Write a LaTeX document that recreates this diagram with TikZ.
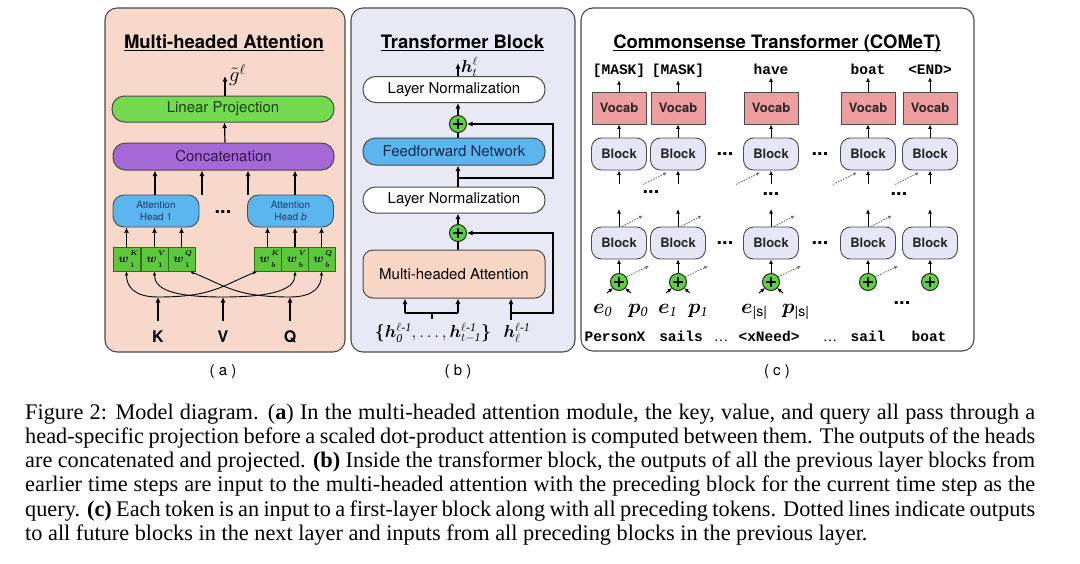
\documentclass[tikz,border=0pt]{standalone}
\usepackage{amsmath}
\usepackage{bm}
\usepackage{fontspec}
\setmainfont{Liberation Serif}
\setsansfont{TeX Gyre Heros}
\setmonofont{Liberation Mono}
\usetikzlibrary{arrows.meta,calc}

\definecolor{peachA}{HTML}{F7D8CA}
\definecolor{lavB}{HTML}{E9E9F6}
\definecolor{lpgreen}{HTML}{74DB50}
\definecolor{wgreen}{HTML}{5CC93C}
\definecolor{wdark}{HTML}{2F6E22}
\definecolor{pgreen}{HTML}{5AD43A}
\definecolor{concat}{HTML}{A469D6}
\definecolor{headblue}{HTML}{5BB6F0}
\definecolor{vocabred}{HTML}{EE9E9E}
\definecolor{blockl}{HTML}{E6E6F6}
\definecolor{mhapeach}{HTML}{F8D6C5}
\definecolor{edge}{HTML}{4A4A4A}
\definecolor{lptext}{HTML}{1E3D12}
\definecolor{cctext}{HTML}{2F1548}
\definecolor{headtext}{HTML}{1F3A6E}
\definecolor{ffntext}{HTML}{0F2A4A}

\newcommand\wlab[2]{{\fontsize{13}{14}\selectfont$\bm{w}$}\kern1.6pt\makebox[0pt][l]{\raisebox{7pt}{\fontsize{7}{7}\selectfont$\bm{#2}$}}\raisebox{-5.5pt}{\fontsize{7}{7}\selectfont$\bm{#1}$}\hspace{3pt}}

\tikzset{
  panel/.style={draw=edge, line width=1.1pt, rounded corners=12pt},
  ttl/.style={font=\sffamily\bfseries\fontsize{18.5}{20}\selectfont, inner sep=0pt, anchor=base},
  pill/.style={draw=edge, line width=1pt, rounded corners=12.5pt, inner sep=0pt, font=\sffamily\fontsize{15}{18}\selectfont},
  arr/.style={-{Latex[length=5.5pt,width=5pt]}, line width=1.2pt},
  sarr/.style={-{Latex[length=4.5pt,width=4pt]}, line width=1pt},
  cur/.style={-{Latex[length=4pt,width=3.5pt]}, line width=0.9pt},
  dotarr/.style={-{Latex[length=4pt,width=3.5pt]}, line width=0.9pt, draw=black!55, dash pattern=on 1.6pt off 1.2pt},
  wbox/.style={draw=wdark, fill=wgreen, line width=0.8pt, minimum width=27pt, minimum height=24pt, inner sep=0pt},
  head/.style={draw=edge, fill=headblue, rounded corners=11pt, line width=0.9pt, minimum width=86pt, minimum height=32pt, inner sep=0pt, align=center, font=\sffamily\fontsize{10}{11.5}\selectfont, text=headtext},
  plus/.style={circle, draw=black!85, fill=pgreen, line width=1pt, minimum size=17pt, inner sep=0pt},
  vocab/.style={draw=edge, fill=vocabred, line width=0.9pt, minimum width=54pt, minimum height=32pt, inner sep=0pt, font=\sffamily\bfseries\fontsize{13}{15}\selectfont, text=black!85},
  blk/.style={draw=edge, fill=blockl, rounded corners=10pt, line width=0.9pt, minimum width=55pt, minimum height=32pt, inner sep=0pt, font=\sffamily\bfseries\fontsize{13}{15}\selectfont, text=black!85},
  tok/.style={font=\ttfamily\bfseries\fontsize{14.5}{16}\selectfont, anchor=base, inner sep=0pt},
  dots/.style={font=\sffamily\bfseries\fontsize{20}{20}\selectfont, inner sep=0pt},
  kvq/.style={font=\sffamily\bfseries\fontsize{16}{16}\selectfont, inner sep=0pt},
  sublab/.style={font=\sffamily\fontsize{15}{17}\selectfont, anchor=base, inner sep=0pt},
  mathlab/.style={inner sep=0pt, anchor=base west},
  capline/.style={anchor=base west, inner sep=0pt, font=\rmfamily\fontsize{22.3}{24}\selectfont}
}

\newcommand\plusnode[2]{%
  \node[plus] (#1) at #2 {};
  \draw[line width=1.7pt] ($(#1)+(-4.8,0)$) -- ($(#1)+(4.8,0)$) ($(#1)+(0,-4.8)$) -- ($(#1)+(0,4.8)$);}

\begin{document}
\begin{tikzpicture}[x=1pt,y=-1pt]
\path[use as bounding box, fill=white] (0,0) rectangle (1080,563);

% ---------- panels ----------
\draw[panel, fill=peachA] (105,8) rectangle (345,352);
\draw[panel, fill=lavB] (351,8) rectangle (575,352);
\draw[panel, fill=white] (581,8) rectangle (974,351);

% ---------- panel (a) ----------
\node[ttl] (ta) at (224,48) {Multi-headed Attention};
\draw[line width=1.2pt] ($(ta.base west)+(0,2.8)$) -- ($(ta.base east)+(0,2.8)$);

\node[pill, fill=lpgreen, minimum width=222pt, minimum height=26pt, text=lptext] (lp) at (223,109) {Linear Projection};
\node[pill, fill=concat, minimum width=221pt, minimum height=27pt, text=cctext] (cc) at (223.5,156.5) {Concatenation};
\node[head] (h1) at (156,211) {Attention\\Head 1};
\node[head] (hb) at (290.5,211) {Attention\\Head \textit{b}};
\node[dots] (da) at (223,212) {...};

\coordinate (gt) at (225,76);
\draw[arr] ($(lp.north)+(2,0)$) -- (gt);
\node[mathlab, anchor=west, font=\fontsize{21}{21}\selectfont] (gl) at (229,75) {$\tilde{g}^{\ell}$};
\draw[arr] ($(cc.north)+(1.5,0)$) -- ($(lp.south)+(1.5,0)$);

\coordinate (ca1) at (155,195);
\coordinate (ca2) at (202,195);
\coordinate (ca3) at (248,195);
\coordinate (ca4) at (295,195);
\foreach \c in {ca1,ca2,ca3,ca4} \draw[arr] (\c) -- (\c |- cc.south);

\node[wbox] (w1k) at (126.5,259) {\wlab{1}{K}};
\node[wbox] (w1v) at (154.5,259) {\wlab{1}{V}};
\node[wbox] (w1q) at (181.5,259) {\wlab{1}{Q}};
\node[wbox] (wbk) at (267.5,259) {\wlab{b}{K}};
\node[wbox] (wbv) at (295,259) {\wlab{b}{V}};
\node[wbox] (wbq) at (321.5,259) {\wlab{b}{Q}};
\draw[arr] (w1k.north) -- (w1k.north |- h1.south);
\draw[arr] (w1v.north) -- (w1v.north |- h1.south);
\draw[arr] (w1q.north) -- (w1q.north |- h1.south);
\draw[arr] (wbk.north) -- (wbk.north |- hb.south);
\draw[arr] (wbv.north) -- (wbv.north |- hb.south);
\draw[arr] (wbq.north) -- (wbq.north |- hb.south);

\node[kvq] (K) at (158,337) {K};
\node[kvq] (V) at (223,337) {V};
\node[kvq] (Q) at (290,337) {Q};
\coordinate (kb) at (158,321); \coordinate (kt) at (158,297);
\coordinate (vb) at (223,321); \coordinate (vt) at (223,297);
\coordinate (qb) at (290,321); \coordinate (qt) at (290,297);
\draw[arr] (kb) -- (kt);
\draw[arr] (vb) -- (vt);
\draw[arr] (qb) -- (qt);
\coordinate (wbkin) at (257,271.5);
\coordinate (w1qin) at (190,271.5);
\draw[cur] (kt) .. controls +(-24,0) and +(0,15) .. (w1k.south);
\draw[cur] (kt) .. controls +(55,0) and +(-35,14) .. (wbkin);
\draw[cur] (vt) .. controls +(-50,0) and +(0,18) .. (w1v.south);
\draw[cur] (vt) .. controls +(50,0) and +(0,18) .. (wbv.south);
\draw[cur] (qt) .. controls +(-55,0) and +(35,14) .. (w1qin);
\draw[cur] (qt) .. controls +(24,0) and +(0,15) .. (wbq.south);

\node[sublab] (la) at (223,375) {(\;a\;)};

% ---------- panel (b) ----------
\node[ttl] (tb) at (462.5,48) {Transformer Block};
\draw[line width=1.2pt] ($(tb.base west)+(0,2.8)$) -- ($(tb.base east)+(0,2.8)$);

\node[pill, fill=white, minimum width=182pt, minimum height=26pt] (ln1) at (454,89.5) {Layer Normalization};
\node[pill, fill=headblue, minimum width=182pt, minimum height=27pt, text=ffntext] (ffn) at (454,151.5) {Feedforward Network};
\node[pill, fill=white, minimum width=182pt, minimum height=26pt] (ln2) at (454,200) {Layer Normalization};
\node[pill, fill=mhapeach, rounded corners=10pt, minimum width=182pt, minimum height=48pt] (mha) at (454,274) {Multi-headed Attention};
\plusnode{pb1}{(458,124)}
\plusnode{pb2}{(458,233)}

\coordinate (ht) at (458,63);
\draw[arr] (ln1.north -| ht) -- (ht);
\node[mathlab, font=\fontsize{17}{17}\selectfont] (hlab) at (461,72) {$\bm{h}^{\ell}_{t}$};

\coordinate (rx) at (553,0);
\draw[arr] (pb1.north) -- (pb1.north |- ln1.south);
\draw[line width=1.2pt] (pb1.south |- ffn.north) -- (pb1.south);
\draw[arr] (pb1.south |- ln2.north) -- (pb1.south |- ffn.south);
\coordinate (r1) at (458,178);
\draw[arr] (r1) -| (rx |- pb1.east) -- (pb1.east);

\draw[arr] (pb2.north) -- (pb2.north |- ln2.south);
\draw[line width=1.2pt] (pb2.south |- mha.north) -- (pb2.south);

\coordinate (ia) at (405,313);
\coordinate (ib) at (458,313);
\coordinate (ic) at (432,313);
\coordinate (icb) at (432,319);
\draw[line width=1.2pt] (ia) -- (ib) (ic) -- (icb);
\draw[arr] (ia) -- (ia |- mha.south);
\draw[arr] (ib) -- (ib |- mha.south);
\coordinate (hq) at (511,320);
\coordinate (hr) at (511,313);
\draw[arr] (hq) -- (hq |- mha.south);
\draw[arr] (hr) -| (rx |- pb2.east) -- (pb2.east);

\node[inner sep=0pt, font=\fontsize{17}{17}\selectfont] (hset) at (433,333) {$\bm{\{}\bm{h}^{\ell\text{-}\mathit{1}}_{\mathit{0}},\ldots,\bm{h}^{\ell\text{-}\mathit{1}}_{t-\mathit{1}}\bm{\}}$};
\node[inner sep=0pt, font=\fontsize{17}{17}\selectfont] (hprev) at (517,333) {$\bm{h}^{\ell\text{-}\mathit{1}}_{\ell}$};

\node[sublab] (lb) at (458,375) {(\;b\;)};

% ---------- panel (c) ----------
\node[ttl] (tc) at (777,48) {Commonsense Transformer (COMeT)};
\draw[line width=1.2pt] ($(tc.base west)+(0,2.8)$) -- ($(tc.base east)+(0,2.8)$);

\foreach \i/\x/\t in {1/619/{[MASK]},2/678/{[MASK]},3/771/{have},4/868/{boat},5/930/{<END>}} {
  \node[tok] (tt\i) at (\x,74) {\t};
  \node[vocab] (v\i) at (\x,108) {Vocab};
  \node[blk] (bu\i) at (\x,154) {Block};
  \node[blk] (bl\i) at (\x,243) {Block};
  \draw[sarr, shorten >=3pt] (v\i.north) -- (v\i.north |- tt\i.south);
  \draw[sarr] (bu\i.north) -- (v\i.south);
  \coordinate (ui\i) at (\x,184);
  \draw[sarr] (ui\i) -- (bu\i.south);
  \coordinate (uo\i) at (\x,209);
  \draw[sarr] (bl\i.north) -- (uo\i);
  \plusnode{pc\i}{(\x,282)}
  \draw[sarr] (pc\i.north) -- (bl\i.south);
}
\foreach \i in {2,3,4,5} {
  \draw[dotarr] ($(bu\i.south)+(-35,14)$) -- ($(bu\i.south)+(-11,2)$);
}
\foreach \i in {1,2,3,4} {
  \draw[dotarr] ($(bl\i.north)+(3,0)$) -- ($(bl\i.north)+(24,-11)$);
  \draw[dotarr] ($(pc\i.center)+(7,-5)$) -- ($(pc\i.center)+(30,-16)$);
}
\foreach \i in {1,2,3} {
  \draw[sarr] ($(pc\i.center)+(-12,11)$) -- ($(pc\i.center)+(-6,6)$);
  \draw[sarr] ($(pc\i.center)+(12,11)$) -- ($(pc\i.center)+(6,6)$);
}

\node[dots] (d1) at (725,154) {...};
\node[dots] (d2) at (820,154) {...};
\node[dots] (d3) at (725,243) {...};
\node[dots] (d4) at (820,243) {...};
\node[dots] (d5) at (651,192) {...};
\node[dots] (d6) at (771,194) {...};
\node[dots] (d7) at (899,194) {...};
\node[dots] (d8) at (902,303) {...};

\node[mathlab, font=\fontsize{20}{20}\selectfont] (e0) at (593,313) {$\bm{e}_{\mathit{0}}$};
\node[mathlab, font=\fontsize{20}{20}\selectfont] (p0) at (628,313) {$\bm{p}_{\mathit{0}}$};
\node[mathlab, font=\fontsize{20}{20}\selectfont] (e1) at (658,313) {$\bm{e}_{\mathit{1}}$};
\node[mathlab, font=\fontsize{20}{20}\selectfont] (p1) at (688,313) {$\bm{p}_{\mathit{1}}$};
\node[mathlab, font=\fontsize{20}{20}\selectfont] (es) at (741,313) {$\bm{e}_{\text{\sffamily |s|}}$};
\node[mathlab, font=\fontsize{20}{20}\selectfont] (ps) at (782,313) {$\bm{p}_{\text{\sffamily |s|}}$};

\node[tok] (b1) at (615,341) {PersonX};
\node[tok] (b2) at (681,341) {sails};
\node[tok, font=\sffamily\fontsize{14}{16}\selectfont] (b3) at (721,341) {…};
\node[tok] (b4) at (769,341) {<xNeed>};
\node[tok, font=\sffamily\fontsize{14}{16}\selectfont] (b5) at (830,341) {…};
\node[tok] (b6) at (868,341) {sail};
\node[tok] (b7) at (929,341) {boat};

\node[sublab] (lc) at (777,375) {(\;c\;)};

% ---------- caption ----------
\node[capline] (cap1) at (25,419) {\makebox[1010pt][s]{Figure 2: Model diagram. (\textbf{a}) In the multi-headed attention module, the key, value, and query all pass through a}};
\node[capline] (cap2) at (25,443) {\makebox[1010pt][s]{head-specific projection before a scaled dot-product attention is computed between them. The outputs of the heads}};
\node[capline] (cap3) at (25,467) {\makebox[1010pt][s]{are concatenated and projected. \textbf{(b)} Inside the transformer block, the outputs of all the previous layer blocks from}};
\node[capline] (cap4) at (25,491) {\makebox[1010pt][s]{earlier time steps are input to the multi-headed attention with the preceding block for the current time step as the}};
\node[capline] (cap5) at (25,516) {\makebox[1010pt][s]{query. \textbf{(c)} Each token is an input to a first-layer block along with all preceding tokens. Dotted lines indicate outputs}};
\node[capline] (cap6) at (25,540) {to all future blocks in the next layer and inputs from all preceding blocks in the previous layer.};
\end{tikzpicture}
\end{document}
